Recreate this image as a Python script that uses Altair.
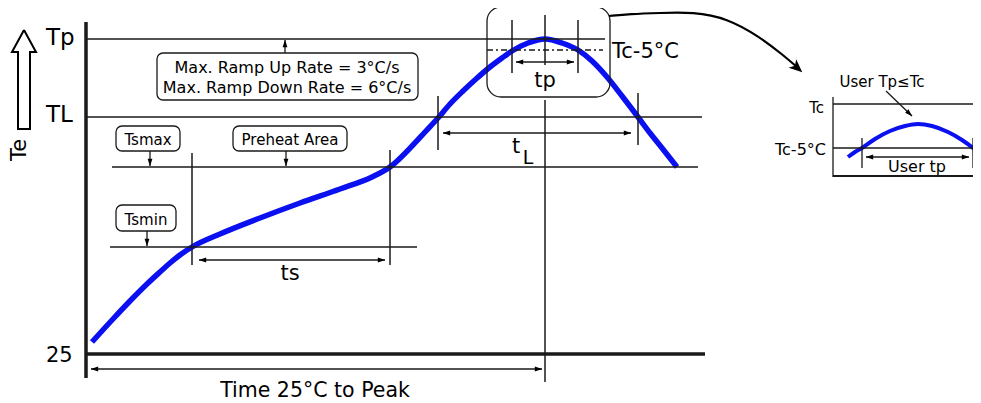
import math
import altair as alt
import pandas as pd

# ---------------- data (diagram units; x = time, y = temperature axis drawn downward) ----------
# main reflow profile
profile_time = [92, 113, 130, 147, 160, 170, 180, 192, 220, 260, 300, 340, 372, 390,
                413, 425, 438, 450, 463, 476, 490, 502, 512, 528, 545, 562, 578,
                592, 607, 622, 638, 650, 662, 677]
profile_temp = [342, 319, 301, 284, 272, 263, 255, 247, 234, 218, 203, 189, 177, 167,
                145, 132, 118, 104, 91, 79, 67, 58, 51, 43, 39, 43, 50,
                61, 77, 96, 117, 133, 148, 167]

# inset (user profile near the peak)
inset_time = [848, 855, 862, 875, 890, 905, 918, 932, 948, 962, 973, 981]
inset_temp = [157, 152, 148, 139, 131, 126, 124, 126, 132, 140, 148, 155]

# horizontal reference levels: Tp, TL, Tsmax, Tsmin, 25, inset Tc, inset Tc-5, inset base
hline_y = [39, 117, 167, 247, 354, 104, 148, 176]
hline_x1 = [86, 86, 112, 110, 86, 833, 833, 833]
hline_x2 = [605, 702, 698, 417, 705, 981, 981, 981]
hline_w = [1.5, 1.5, 1.5, 1.5, 3.5, 1.3, 1.3, 2.0]

# dashed Tc-5 level in the peak box
dash_y = [50]
dash_x1 = [487]
dash_x2 = [603]

# vertical markers
vline_x = [86, 192, 390, 438, 638, 545, 545, 512, 578, 833, 862, 973]
vline_y1 = [22, 153, 150, 96, 93, 15, 100, 20, 20, 97, 138, 138]
vline_y2 = [378, 265, 265, 150, 145, 65, 382, 73, 73, 177, 168, 168]
vline_w = [3.5, 1.5, 1.5, 1.5, 1.5, 1.5, 1.5, 1.5, 1.5, 1.3, 1.3, 1.3]

# label boxes: Max ramp, Tsmax, Preheat Area, Tsmin
box_x1 = [157, 116, 233, 116]
box_x2 = [418, 180, 347, 176]
box_y1 = [53, 126, 126, 205]
box_y2 = [100, 151, 151, 231]
# peak zoom box
peak_box_x1 = [487]
peak_box_x2 = [610]
peak_box_y1 = [7]
peak_box_y2 = [97]

# dimension arrows (start -> end), both = arrowhead at both ends
arrow_x1 = [285, 150, 286, 147, 199, 443, 516, 91, 866, 886]
arrow_y1 = [53, 151, 151, 231, 260, 133, 62, 369, 157, 91]
arrow_x2 = [285, 150, 286, 147, 385, 631, 574, 542, 969, 912]
arrow_y2 = [40, 166, 166, 246, 260, 133, 62, 369, 157, 116]
arrow_both = [False, False, False, False, True, True, True, True, True, False]

# curved link from the peak box to the inset
link_x = [609, 630, 660, 693, 727, 760, 783, 797]
link_y = [16, 14, 13, 12, 18, 37, 55, 67]

# hollow "Te" arrow outline
te_arrow_x = [24, 36, 30, 30, 18, 18, 12, 24]
te_arrow_y = [30, 52, 52, 129, 129, 52, 52, 30]

# texts: label, x, y (baseline), size, align
label_text = ["Tp", "TL", "25", "Max. Ramp Up Rate = 3°C/s", "Max. Ramp Down Rate = 6°C/s",
              "Tsmax", "Preheat Area", "Tsmin", "ts", "tp", "t", "L", "Tc-5°C",
              "Time 25°C to Peak", "User Tp≤Tc", "Tc", "Tc-5°C", "User tp"]
label_x = [46, 46, 46, 287, 287, 148, 290, 146, 290, 545, 516, 528, 612, 315, 882, 824, 826, 917]
label_y = [45, 122, 362, 73, 93, 145, 145, 225, 280, 87, 153, 164, 58, 397, 87, 113, 155, 172]
label_size = [23, 23, 21, 16, 16, 15, 15, 15, 21, 21, 21, 19, 21, 20.5, 15, 15, 16, 16]
label_align = ["left", "left", "left", "center", "center", "center", "center", "center",
               "center", "center", "center", "center", "left", "center", "center", "right",
               "right", "center"]

# ---------------- chart ----------------
W, H = 965, 395
FONT = "DejaVu Sans"
LINE = "#1a1a1a"
BLUE = "#0a10f0"

xs = alt.Scale(domain=[8, 8 + W], nice=False, zero=False)
ys = alt.Scale(domain=[8 + H, 8], nice=False, zero=False)


def X(f="x"):
    return alt.X(f"{f}:Q", scale=xs, axis=None)


def Y(f="y"):
    return alt.Y(f"{f}:Q", scale=ys, axis=None)


# curves
curve_df = pd.DataFrame(
    {"x": profile_time + inset_time,
     "y": profile_temp + inset_temp,
     "id": ["main"] * len(profile_time) + ["inset"] * len(inset_time),
     "i": list(range(len(profile_time))) + list(range(len(inset_time))),
     "w": [5.5] * len(profile_time) + [4.0] * len(inset_time)})
curves = alt.Chart(curve_df).mark_line(color=BLUE, interpolate="monotone", strokeCap="butt").encode(
    x=X(), y=Y(), detail="id:N", order="i:Q", strokeWidth=alt.StrokeWidth("w:Q", scale=None))

# horizontal rules
h_df = pd.DataFrame({"x": hline_x1, "x2": hline_x2, "y": hline_y, "w": hline_w})
hrules = alt.Chart(h_df).mark_rule(color=LINE).encode(
    x=X(), x2="x2:Q", y=Y(), strokeWidth=alt.StrokeWidth("w:Q", scale=None))

d_df = pd.DataFrame({"x": dash_x1, "x2": dash_x2, "y": dash_y})
drules = alt.Chart(d_df).mark_rule(color=LINE, strokeWidth=1.3, strokeDash=[6, 3, 2, 3]).encode(
    x=X(), x2="x2:Q", y=Y())

v_df = pd.DataFrame({"x": vline_x, "y": vline_y1, "y2": vline_y2, "w": vline_w})
vrules = alt.Chart(v_df).mark_rule(color=LINE).encode(
    x=X(), y=Y(), y2="y2:Q", strokeWidth=alt.StrokeWidth("w:Q", scale=None))

# boxes
b_df = pd.DataFrame({"x": box_x1, "x2": box_x2, "y": box_y1, "y2": box_y2})
boxes = alt.Chart(b_df).mark_rect(fill="white", stroke=LINE, strokeWidth=1.3, cornerRadius=6).encode(
    x=X(), x2="x2:Q", y=Y(), y2="y2:Q")
pb_df = pd.DataFrame({"x": peak_box_x1, "x2": peak_box_x2, "y": peak_box_y1, "y2": peak_box_y2})
peak_box = alt.Chart(pb_df).mark_rect(fill="white", fillOpacity=0, stroke=LINE, strokeWidth=1.3,
                                       cornerRadius=14).encode(
    x=X(), x2="x2:Q", y=Y(), y2="y2:Q")

# arrows: shafts + heads
a_df = pd.DataFrame({"x": arrow_x1, "x2": arrow_x2, "y": arrow_y1, "y2": arrow_y2})
shafts = alt.Chart(a_df).mark_rule(color=LINE, strokeWidth=1.3).encode(
    x=X(), x2="x2:Q", y=Y(), y2="y2:Q")

HEAD = "M0,-1L0.62,0.9L-0.62,0.9Z"
BARB = "M0,-1L0.75,0.75L0,0.3L-0.75,0.75Z"


def head(tx, ty, fx, fy, size, shape):
    dx, dy = tx - fx, ty - fy
    n = math.hypot(dx, dy)
    ux, uy = dx / n, dy / n
    r = math.sqrt(size) / 2
    ang = math.degrees(math.atan2(ux, -uy)) % 360
    return {"x": tx - ux * r * 0.95, "y": ty - uy * r * 0.95, "angle": ang, "size": size, "shape": shape}


heads = []
for x1, y1, x2, y2, both in zip(arrow_x1, arrow_y1, arrow_x2, arrow_y2, arrow_both):
    heads.append(head(x2, y2, x1, y1, 60, HEAD))
    if both:
        heads.append(head(x1, y1, x2, y2, 60, HEAD))
heads.append(head(link_x[-1] + 5, link_y[-1] + 5, link_x[-2], link_y[-2], 230, BARB))
h2_df = pd.DataFrame(heads)
arrowheads = alt.Chart(h2_df).mark_point(filled=True, color="black", opacity=1, strokeWidth=0).encode(
    x=X(), y=Y(), angle=alt.Angle("angle:Q", scale=None), size=alt.Size("size:Q", scale=None),
    shape=alt.Shape("shape:N", scale=None))

link_df = pd.DataFrame({"x": link_x, "y": link_y, "i": list(range(len(link_x)))})
link = alt.Chart(link_df).mark_line(color="black", strokeWidth=2.2, interpolate="basis").encode(
    x=X(), y=Y(), order="i:Q")

te_df = pd.DataFrame({"x": te_arrow_x, "y": te_arrow_y, "i": list(range(len(te_arrow_x)))})
te_arrow = alt.Chart(te_df).mark_line(color="black", strokeWidth=2, strokeJoin="miter").encode(
    x=X(), y=Y(), order="i:Q")

# texts
t_df = pd.DataFrame({"t": label_text, "x": label_x, "y": label_y, "s": label_size, "a": label_align})
texts = []
for al in ["left", "center", "right"]:
    sub = t_df[t_df["a"] == al]
    texts.append(alt.Chart(sub).mark_text(align=al, baseline="alphabetic", font=FONT, color="black").encode(
        x=X(), y=Y(), text="t:N", size=alt.Size("s:Q", scale=None)))
te_text = alt.Chart(pd.DataFrame({"t": ["Te"], "x": [20], "y": [150]})).mark_text(
    angle=270, align="center", baseline="middle", font=FONT, fontSize=21, color="black").encode(
    x=X(), y=Y(), text="t:N")

chart = alt.layer(
    curves, hrules, drules, vrules, boxes, peak_box, shafts, arrowheads, link, te_arrow,
    *texts, te_text
).properties(
    width=W, height=H, padding=0, autosize=alt.AutoSizeParams(type="none"), background="white"
).configure_view(stroke=None)

chart.save("out.html", embed_options={"renderer": "svg", "actions": False})
